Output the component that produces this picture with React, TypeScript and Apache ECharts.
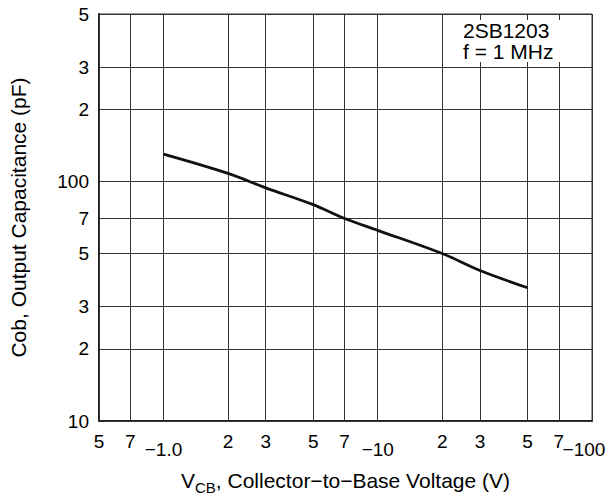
import React, { useEffect, useRef } from 'react';
import * as echarts from 'echarts';

const xGridValues = [0.5, 0.7, 1, 2, 3, 5, 7, 10, 20, 30, 50, 70, 100];
const xTickLabels = ['5', '7', '−1.0', '2', '3', '5', '7', '−10', '2', '3', '5', '7', '−100'];
const yGridValues = [10, 20, 30, 50, 70, 100, 200, 300, 500];
const yTickLabels = ['10', '2', '3', '5', '7', '100', '2', '3', '5'];
const vcb = [1, 2, 3, 5, 7, 10, 20, 30, 50];
const cob = [130, 108, 94, 80, 70, 62.5, 50, 42.5, 36];
const noteLines = ['2SB1203', 'f = 1 MHz'];

const FONT = "'Liberation Sans', Arial, Helvetica, sans-serif";
const GRID_COLOR = '#333';
const TICK_FONT = 19;

export default function App() {
  const ref = useRef<HTMLDivElement>(null);
  useEffect(() => {
    if (!ref.current) return;
    const chart = echarts.init(ref.current, undefined, { renderer: 'svg' });

    const xLines = xGridValues.map((v, i) => {
      const low = xTickLabels[i].startsWith('−');
      const isLast = i === xGridValues.length - 1;
      return {
        xAxis: v,
        label: {
          formatter: isLast ? '{e|' + xTickLabels[i] + '}' : xTickLabels[i],
          distance: low ? 19 : 11,
          rich: { e: { fontSize: TICK_FONT, fontFamily: FONT, color: '#000', padding: [0, 16, 0, 0] } },
        },
      };
    });
    const yLines = yGridValues.map((v, i) => ({
      yAxis: v,
      label: { formatter: yTickLabels[i], distance: 10 },
    }));

    chart.setOption({
      animation: false,
      backgroundColor: '#fff',
      textStyle: { fontFamily: FONT },
      title: {
        text: noteLines.join('\n'),
        left: 451,
        top: 20,
        padding: [0, 10, 0, 12],
        backgroundColor: '#fff',
        textStyle: { fontSize: 21, fontWeight: 'normal', color: '#000', lineHeight: 21, fontFamily: FONT },
      },
      grid: {
        left: 97,
        right: 14,
        top: 14,
        bottom: 76,
        show: true,
        borderColor: GRID_COLOR,
        borderWidth: 1,
        backgroundColor: 'transparent',
      },
      xAxis: {
        type: 'log',
        logBase: 10,
        min: 0.5,
        max: 100,
        axisLine: { show: true, lineStyle: { color: '#222', width: 2 } },
        axisTick: { show: false },
        axisLabel: { show: false },
        splitLine: { show: false },
        name: '{n|V}{s|CB}{n|, Collector−to−Base Voltage (V)}',
        nameLocation: 'middle',
        nameGap: 46,
        nameTextStyle: {
          rich: {
            n: { fontSize: 21, fontFamily: FONT, color: '#000', lineHeight: 24, verticalAlign: 'bottom' },
            s: { fontSize: 15, fontFamily: FONT, color: '#000', lineHeight: 24, verticalAlign: 'bottom', padding: [0, 0, -4, 0] },
          },
        },
      },
      yAxis: {
        type: 'log',
        logBase: 10,
        min: 10,
        max: 500,
        axisLine: { show: true, lineStyle: { color: '#222', width: 2 } },
        axisTick: { show: false },
        axisLabel: { show: false },
        splitLine: { show: false },
        name: 'Cob, Output Capacitance (pF)',
        nameLocation: 'middle',
        nameGap: 70,
        nameTextStyle: { fontSize: 21, color: '#000', fontFamily: FONT },
      },
      series: [
        {
          type: 'line',
          data: [],
          silent: true,
          markLine: {
            silent: true,
            symbol: ['none', 'none'],
            lineStyle: { color: GRID_COLOR, width: 1, type: 'solid' },
            label: { show: true, position: 'start', color: '#000', fontSize: TICK_FONT, fontFamily: FONT },
            emphasis: { disabled: true },
            data: [...xLines, ...yLines],
          },
        },
        {
          type: 'line',
          data: vcb.map((x, i) => [x, cob[i]]),
          showSymbol: false,
          symbol: 'none',
          smooth: 0.35,
          lineStyle: { color: '#111', width: 2.8 },
          z: 5,
        },
      ],
    });
    return () => chart.dispose();
  }, []);
  return <div ref={ref} style={{ position: 'absolute', left: 0, top: 0, width: 606, height: 500 }} />;
}
